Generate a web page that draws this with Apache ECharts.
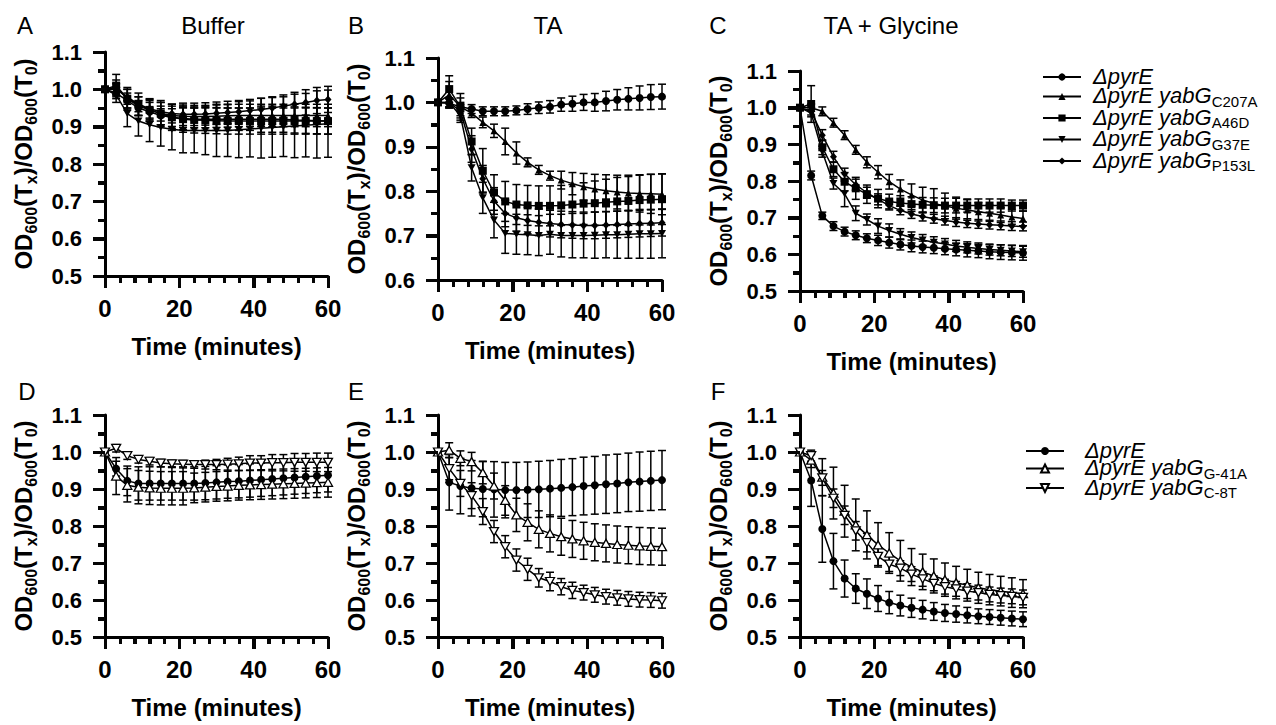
<!DOCTYPE html>
<html><head><meta charset="utf-8">
<script src="https://cdn.jsdelivr.net/npm/echarts@6/dist/echarts.min.js"></script>
<style>html,body{margin:0;padding:0;background:#fff}
#wrap{position:relative;width:1276px;height:725px;background:#fff}
#top,#bottom{position:absolute;left:0;top:0;width:1276px;height:725px}</style>
</head><body><div id="wrap"><div id="top"></div><div id="bottom"></div></div>
<script>
// ---------------- data ----------------
const minutes = [0,3,6,9,12,15,18,21,24,27,30,33,36,39,42,45,48,51,54,57,60];
const xTicks = [0,20,40,60];
const xMinorTicks = [4,8,12,16,24,28,32,36,44,48,52,56];
const yTicks = [0.5,0.6,0.7,0.8,0.9,1.0,1.1];
const yMinorTicks = [0.55,0.65,0.75,0.85,0.95,1.05];

// Panel A (Buffer)
const A_pyrE     = [1.000,0.990,0.970,0.950,0.940,0.930,0.925,0.922,0.920,0.920,0.920,0.920,0.920,0.920,0.920,0.920,0.920,0.918,0.917,0.916,0.915];
const A_pyrE_sd  = [0,0.015,0.020,0.020,0.025,0.025,0.030,0.030,0.030,0.030,0.030,0.030,0.030,0.030,0.035,0.035,0.035,0.035,0.035,0.035,0.035];
const A_C207A    = [1.000,1.005,0.975,0.955,0.945,0.935,0.930,0.928,0.927,0.927,0.928,0.929,0.930,0.930,0.930,0.930,0.930,0.930,0.930,0.930,0.930];
const A_C207A_sd = [0,0.020,0.025,0.025,0.025,0.030,0.030,0.030,0.030,0.030,0.030,0.030,0.030,0.030,0.030,0.030,0.030,0.030,0.030,0.030,0.030];
const A_A46D     = [1.000,1.010,0.975,0.960,0.945,0.935,0.925,0.920,0.918,0.917,0.916,0.915,0.915,0.915,0.915,0.915,0.915,0.915,0.915,0.915,0.915];
const A_A46D_sd  = [0,0.030,0.030,0.030,0.030,0.035,0.035,0.035,0.035,0.035,0.035,0.035,0.035,0.035,0.035,0.035,0.035,0.035,0.035,0.035,0.035];
const A_G37E     = [1.000,0.985,0.935,0.915,0.905,0.898,0.893,0.890,0.890,0.890,0.890,0.890,0.892,0.894,0.896,0.898,0.900,0.902,0.904,0.906,0.908];
const A_G37E_sd  = [0,0.020,0.035,0.040,0.045,0.050,0.055,0.060,0.060,0.065,0.070,0.070,0.075,0.075,0.080,0.080,0.080,0.085,0.085,0.090,0.090];
const A_P153L    = [1.000,1.000,0.980,0.960,0.948,0.940,0.935,0.933,0.933,0.934,0.936,0.938,0.940,0.943,0.946,0.950,0.955,0.960,0.965,0.970,0.973];
const A_P153L_sd = [0,0.015,0.020,0.020,0.025,0.025,0.025,0.030,0.030,0.030,0.030,0.030,0.030,0.030,0.030,0.030,0.030,0.032,0.034,0.035,0.035];

// Panel B (TA)
const B_pyrE     = [1.000,0.998,0.990,0.985,0.980,0.980,0.980,0.982,0.985,0.988,0.990,0.995,0.997,1.000,1.000,1.003,1.006,1.008,1.010,1.012,1.013];
const B_pyrE_sd  = [0,0.010,0.010,0.010,0.010,0.010,0.010,0.010,0.012,0.013,0.014,0.015,0.017,0.018,0.020,0.022,0.023,0.025,0.027,0.028,0.028];
const B_C207A    = [1.000,1.017,0.990,0.976,0.955,0.936,0.912,0.886,0.865,0.848,0.835,0.825,0.817,0.810,0.805,0.801,0.798,0.796,0.795,0.794,0.793];
const B_C207A_sd = [0,0.030,0.020,0.010,0.012,0.015,0.030,0.025,0.010,0.010,0.010,0.020,0.025,0.030,0.033,0.036,0.038,0.040,0.042,0.044,0.046];
const B_A46D     = [1.000,1.030,0.990,0.912,0.846,0.797,0.777,0.770,0.768,0.767,0.767,0.768,0.770,0.772,0.773,0.775,0.777,0.778,0.780,0.781,0.782];
const B_A46D_sd  = [0,0.030,0.030,0.030,0.050,0.040,0.045,0.045,0.045,0.045,0.045,0.045,0.045,0.047,0.050,0.052,0.054,0.055,0.056,0.057,0.057];
const B_G37E     = [1.000,1.000,0.970,0.853,0.785,0.735,0.705,0.703,0.702,0.700,0.703,0.700,0.700,0.700,0.701,0.702,0.702,0.703,0.704,0.704,0.705];
const B_G37E_sd  = [0,0.010,0.015,0.030,0.035,0.040,0.045,0.045,0.045,0.045,0.045,0.048,0.050,0.050,0.052,0.052,0.053,0.054,0.055,0.055,0.055];
const B_P153L    = [1.000,1.000,0.980,0.895,0.828,0.778,0.750,0.740,0.734,0.730,0.727,0.725,0.724,0.723,0.723,0.724,0.725,0.726,0.727,0.728,0.729];
const B_P153L_sd = [0,0.010,0.015,0.030,0.030,0.030,0.030,0.030,0.030,0.030,0.030,0.030,0.030,0.030,0.030,0.030,0.030,0.030,0.030,0.030,0.030];

// Panel C (TA + Glycine)
const C_pyrE     = [1.000,0.815,0.705,0.677,0.662,0.652,0.644,0.638,0.632,0.627,0.623,0.620,0.618,0.615,0.613,0.611,0.609,0.607,0.606,0.605,0.604];
const C_pyrE_sd  = [0,0.012,0.010,0.012,0.012,0.012,0.012,0.014,0.015,0.015,0.016,0.016,0.016,0.016,0.017,0.018,0.018,0.019,0.020,0.020,0.020];
const C_C207A    = [1.000,1.000,0.990,0.959,0.925,0.885,0.851,0.824,0.798,0.778,0.762,0.748,0.739,0.732,0.726,0.721,0.716,0.712,0.707,0.702,0.698];
const C_C207A_sd = [0,0.010,0.012,0.012,0.012,0.012,0.015,0.018,0.020,0.025,0.030,0.035,0.040,0.035,0.030,0.028,0.025,0.022,0.020,0.020,0.020];
const C_A46D     = [1.000,1.010,0.892,0.832,0.798,0.780,0.764,0.752,0.744,0.740,0.737,0.735,0.734,0.733,0.733,0.733,0.733,0.733,0.733,0.733,0.733];
const C_A46D_sd  = [0,0.050,0.020,0.020,0.025,0.030,0.025,0.025,0.020,0.020,0.020,0.020,0.020,0.020,0.020,0.018,0.018,0.018,0.018,0.015,0.015];
const C_G37E     = [1.000,0.985,0.880,0.793,0.765,0.712,0.695,0.677,0.665,0.655,0.646,0.639,0.633,0.628,0.623,0.619,0.616,0.613,0.611,0.609,0.607];
const C_G37E_sd  = [0,0.010,0.015,0.015,0.035,0.020,0.015,0.020,0.018,0.015,0.015,0.015,0.015,0.015,0.015,0.015,0.015,0.015,0.015,0.015,0.015];
const C_P153L    = [1.000,0.990,0.925,0.866,0.820,0.790,0.768,0.750,0.733,0.720,0.710,0.703,0.697,0.692,0.688,0.685,0.683,0.681,0.679,0.677,0.676];
const C_P153L_sd = [0,0.010,0.015,0.015,0.015,0.015,0.015,0.015,0.012,0.012,0.012,0.012,0.012,0.012,0.012,0.012,0.012,0.012,0.012,0.012,0.012];

// Panel D (Buffer, promoter mutants)
const D_pyrE     = [1.000,0.955,0.922,0.915,0.915,0.915,0.915,0.915,0.915,0.916,0.918,0.920,0.921,0.923,0.925,0.927,0.929,0.931,0.933,0.935,0.937];
const D_pyrE_sd  = [0,0.020,0.040,0.045,0.045,0.045,0.045,0.045,0.045,0.045,0.045,0.045,0.045,0.045,0.045,0.045,0.045,0.045,0.045,0.045,0.045];
const D_G41A     = [1.000,0.935,0.910,0.905,0.903,0.902,0.902,0.902,0.903,0.905,0.907,0.908,0.910,0.911,0.912,0.913,0.914,0.915,0.916,0.917,0.918];
const D_G41A_sd  = [0,0.050,0.045,0.045,0.045,0.045,0.045,0.045,0.040,0.040,0.040,0.040,0.040,0.040,0.040,0.040,0.040,0.040,0.040,0.040,0.040];
const D_C8T      = [1.000,1.010,0.990,0.980,0.975,0.970,0.968,0.967,0.966,0.966,0.966,0.967,0.968,0.970,0.970,0.971,0.971,0.972,0.972,0.972,0.972];
const D_C8T_sd   = [0,0.010,0.010,0.010,0.010,0.010,0.010,0.010,0.010,0.012,0.014,0.016,0.018,0.020,0.020,0.022,0.022,0.024,0.024,0.025,0.025];

// Panel E (TA, promoter mutants)
const E_pyrE     = [1.000,0.918,0.908,0.902,0.900,0.899,0.897,0.897,0.898,0.899,0.901,0.903,0.905,0.908,0.910,0.913,0.915,0.918,0.920,0.922,0.924];
const E_pyrE_sd  = [0,0.075,0.075,0.075,0.075,0.075,0.075,0.075,0.075,0.076,0.076,0.077,0.077,0.078,0.078,0.079,0.079,0.079,0.080,0.080,0.080];
const E_G41A     = [1.000,1.005,0.983,0.974,0.944,0.908,0.869,0.830,0.810,0.791,0.780,0.771,0.765,0.760,0.756,0.753,0.750,0.748,0.746,0.745,0.744];
const E_G41A_sd  = [0,0.020,0.020,0.025,0.030,0.035,0.040,0.045,0.050,0.050,0.050,0.050,0.050,0.050,0.050,0.050,0.050,0.050,0.050,0.050,0.050];
const E_C8T      = [1.000,0.955,0.915,0.882,0.839,0.785,0.744,0.708,0.683,0.660,0.650,0.636,0.626,0.620,0.614,0.609,0.606,0.603,0.601,0.600,0.598];
const E_C8T_sd   = [0,0.030,0.035,0.035,0.035,0.030,0.030,0.030,0.030,0.025,0.025,0.022,0.022,0.020,0.020,0.020,0.020,0.020,0.020,0.020,0.020];

// Panel F (TA + Glycine, promoter mutants)
const F_pyrE     = [1.000,0.923,0.792,0.705,0.658,0.631,0.617,0.604,0.593,0.585,0.579,0.574,0.569,0.565,0.562,0.559,0.556,0.554,0.552,0.550,0.548];
const F_pyrE_sd  = [0,0.070,0.090,0.075,0.050,0.040,0.040,0.035,0.030,0.028,0.026,0.025,0.024,0.023,0.022,0.021,0.020,0.020,0.020,0.020,0.020];
const F_G41A     = [1.000,0.978,0.932,0.889,0.840,0.803,0.776,0.749,0.727,0.706,0.689,0.676,0.665,0.655,0.647,0.640,0.633,0.628,0.624,0.620,0.617];
const F_G41A_sd  = [0,0.020,0.050,0.070,0.070,0.070,0.065,0.060,0.055,0.055,0.050,0.048,0.046,0.045,0.044,0.043,0.042,0.041,0.040,0.040,0.038];
const F_C8T      = [1.000,0.990,0.930,0.875,0.829,0.787,0.755,0.718,0.697,0.686,0.670,0.657,0.645,0.636,0.630,0.624,0.620,0.615,0.612,0.610,0.607];
const F_C8T_sd   = [0,0.015,0.020,0.025,0.025,0.025,0.025,0.025,0.020,0.020,0.020,0.020,0.020,0.020,0.020,0.020,0.020,0.020,0.020,0.020,0.020];

const panelLetters = ['A','B','C','D','E','F'];
const panelTitles = ['Buffer','TA','TA + Glycine'];
const yMinByPanel = [0.5,0.6,0.5,0.5,0.5,0.5];
const strainNames = {
  pyrE:'ΔpyrE', C207A:'ΔpyrE yabG C207A', A46D:'ΔpyrE yabG A46D', G37E:'ΔpyrE yabG G37E',
  P153L:'ΔpyrE yabG P153L', G41A:'ΔpyrE yabG G-41A', C8T:'ΔpyrE yabG C-8T'
};
const strainSubs = {C207A:'C207A', A46D:'A46D', G37E:'G37E', P153L:'P153L', G41A:'G-41A', C8T:'C-8T'};

// ---------------- layout / style ----------------
const FONT = '"Liberation Sans", Arial, Helvetica, sans-serif';
const INK = '#050505';
const DOWN_TRI = 'path://M0,0L10,0L5,9Z';
const markers = {
  pyrE:{symbol:'circle', size:8, fill:'#000'},
  C207A:{symbol:'triangle', size:7, fill:'#000'},
  A46D:{symbol:'rect', size:8, fill:'#000'},
  G37E:{symbol:DOWN_TRI, size:[8,7], fill:'#000'},
  P153L:{symbol:'diamond', size:[7,8], fill:'#000'},
  G41A:{symbol:'triangle', size:[9,8], fill:'#fff'},
  C8T:{symbol:DOWN_TRI, size:[9,8], fill:'#fff'}
};
const grids = [
  {left:105, top:52, width:223, height:224},
  {left:438, top:58, width:224, height:222},
  {left:800, top:71, width:223, height:220},
  {left:105, top:415, width:223, height:222},
  {left:438, top:415, width:224, height:222},
  {left:800, top:415, width:223, height:222}
];
const panels = [
  {keys:['pyrE','C207A','A46D','G37E','P153L'], means:[A_pyrE,A_C207A,A_A46D,A_G37E,A_P153L], sds:[A_pyrE_sd,A_C207A_sd,A_A46D_sd,A_G37E_sd,A_P153L_sd]},
  {keys:['pyrE','C207A','A46D','G37E','P153L'], means:[B_pyrE,B_C207A,B_A46D,B_G37E,B_P153L], sds:[B_pyrE_sd,B_C207A_sd,B_A46D_sd,B_G37E_sd,B_P153L_sd]},
  {keys:['pyrE','C207A','A46D','G37E','P153L'], means:[C_pyrE,C_C207A,C_A46D,C_G37E,C_P153L], sds:[C_pyrE_sd,C_C207A_sd,C_A46D_sd,C_G37E_sd,C_P153L_sd]},
  {keys:['pyrE','G41A','C8T'], means:[D_pyrE,D_G41A,D_C8T], sds:[D_pyrE_sd,D_G41A_sd,D_C8T_sd]},
  {keys:['pyrE','G41A','C8T'], means:[E_pyrE,E_G41A,E_C8T], sds:[E_pyrE_sd,E_G41A_sd,E_C8T_sd]},
  {keys:['pyrE','G41A','C8T'], means:[F_pyrE,F_G41A,F_C8T], sds:[F_pyrE_sd,F_G41A_sd,F_C8T_sd]}
];

const ls = () => ({color:'#000', width:3});
const tls = () => ({color:INK, width:3});
const yName = '{m|OD}{s|600}{m|(T}{s|x}{m|)/OD}{s|600}{m|(T}{s|0}{m|)}';
const yNameRich = () => ({
  m:{fontFamily:FONT, fontSize:24, fontWeight:'bold', color:'#000', lineHeight:28, verticalAlign:'top'},
  s:{fontFamily:FONT, fontSize:16, fontWeight:'bold', color:'#000', lineHeight:16, verticalAlign:'bottom'}
});
const MAJOR_LEN = 12, MINOR_LEN = 7;
const snap = v => Math.round(v) + 0.5;

function legendFmt(name) {
  const key = Object.keys(strainNames).find(k => strainNames[k] === name);
  if (key === 'pyrE') return '{i|ΔpyrE}';
  return '{i|ΔpyrE yabG}{s|' + strainSubs[key] + '}';
}
function legendRich(gap) {
  return {
    i:{fontFamily:FONT, fontSize:22, fontStyle:'italic', color:'#000', lineHeight:24, verticalAlign:'top', padding:[0,0,0,gap]},
    s:{fontFamily:FONT, fontSize:15, color:'#000', lineHeight:12, verticalAlign:'bottom'}
  };
}
function textEl(x, y, text) {
  return {type:'text', x:x, y:y, silent:true, style:{text:text, font:'24px ' + FONT, fill:'#000',
    align:'center', verticalAlign:'middle', textAlign:'center', textVerticalAlign:'middle'}};
}
const letterPos = [[25,25],[356,25],[718,25],[27,391],[356,391],[718,391]];
const titlePos = [[213,25],[548,25],[891,25]];

function buildOption(panelIdx, legend, bg) {
  const xAxes = [], yAxes = [], series = [], gridList = [];
  panelIdx.forEach((pi, i) => {
    const yMin = yMinByPanel[pi];
    gridList.push(grids[pi]);
    xAxes.push({
      type:'value', gridIndex:i, min:xTicks[0], max:xTicks[xTicks.length-1], interval:xTicks[1]-xTicks[0],
      axisLine:{show:true, onZero:false, lineStyle:ls()},
      axisTick:{show:true, length:MAJOR_LEN, lineStyle:tls()},
      minorTick:{show:true, splitNumber:5, length:MINOR_LEN, lineStyle:tls()},
      splitLine:{show:false}, minorSplitLine:{show:false},
      axisLabel:{fontFamily:FONT, fontSize:24, fontWeight:'bold', color:'#000', margin:20},
      name:'Time (minutes)', nameLocation:'middle', nameGap:58,
      nameTextStyle:{fontFamily:FONT, fontSize:24, fontWeight:'bold', color:'#000'}
    });
    yAxes.push({
      type:'value', gridIndex:i, min:yMin, max:yTicks[yTicks.length-1], interval:0.1,
      axisLine:{show:true, onZero:false, lineStyle:ls()},
      axisTick:{show:true, length:MAJOR_LEN, lineStyle:tls()},
      minorTick:{show:true, splitNumber:2, length:MINOR_LEN, lineStyle:tls()},
      splitLine:{show:false}, minorSplitLine:{show:false},
      axisLabel:{fontFamily:FONT, fontSize:22, fontWeight:'bold', color:'#000', margin:23,
        formatter:v => v.toFixed(1)},
      name:yName, nameLocation:'middle', nameGap:66,
      nameTextStyle:{rich:yNameRich()}
    });
    const p = panels[pi];
    p.keys.forEach((k, j) => {
      const mean = p.means[j], sd = p.sds[j];
      series.push({
        type:'custom', name:'err-' + pi + '-' + k, xAxisIndex:i, yAxisIndex:i, z:2, silent:true,
        encode:{x:0, y:[1,2]},
        data:minutes.map((t, n) => [t, mean[n] - sd[n], mean[n] + sd[n]]),
        renderItem:(params, api) => {
          const x = api.value(0), lo = api.value(1), hi = api.value(2);
          if (hi - lo < 1e-9) return {type:'group', children:[]};
          const a = api.coord([x, hi]), b = api.coord([x, lo]);
          const w = 4, st = {stroke:'#000', lineWidth:1.5, fill:null};
          return {type:'group', children:[
            {type:'line', shape:{x1:a[0], y1:a[1], x2:b[0], y2:b[1]}, style:st},
            {type:'line', shape:{x1:a[0]-w, y1:a[1], x2:a[0]+w, y2:a[1]}, style:st},
            {type:'line', shape:{x1:b[0]-w, y1:b[1], x2:b[0]+w, y2:b[1]}, style:st}
          ]};
        }
      });
      const mk = markers[k];
      series.push({
        type:'line', name:strainNames[k], xAxisIndex:i, yAxisIndex:i, z:3,
        data:minutes.map((t, n) => [t, mean[n]]),
        symbol:mk.symbol, symbolSize:mk.size, showSymbol:true,
        lineStyle:{color:'#000', width:1.5},
        itemStyle:{color:mk.fill, borderColor:'#000', borderWidth: mk.fill === '#fff' ? 1.3 : 0},
        emphasis:{disabled:true}
      });
    });
  });
  return {animation:false, backgroundColor:bg, grid:gridList, xAxis:xAxes, yAxis:yAxes,
    legend:[legend], series:series};
}

// tick marks placed through each grid's axis scales (fallback: grid box mapping)
function toPixel(chart, i, pi, x, y) {
  let p = null;
  try { p = chart.convertToPixel({xAxisIndex:i, yAxisIndex:i}, [x, y]); } catch (e) { p = null; }
  if (!p || !isFinite(p[0]) || !isFinite(p[1])) {
    try { p = chart.convertToPixel({gridIndex:i}, [x, y]); } catch (e) { p = null; }
  }
  if (!p || !isFinite(p[0]) || !isFinite(p[1])) {
    const g = grids[pi], yMin = yMinByPanel[pi], yMax = yTicks[yTicks.length-1];
    const xMin = xTicks[0], xMax = xTicks[xTicks.length-1];
    p = [g.left + (x - xMin) / (xMax - xMin) * g.width, g.top + (yMax - y) / (yMax - yMin) * g.height];
  }
  return p;
}
function tickElements(chart, panelIdx) {
  const els = [];
  const st = {stroke:INK, lineWidth:3, fill:null};
  panelIdx.forEach((pi, i) => {
    const yMin = yMinByPanel[pi];
    xTicks.map(v => [v, MAJOR_LEN]).concat(xMinorTicks.map(v => [v, MINOR_LEN])).forEach(([v, len]) => {
      const p = toPixel(chart, i, pi, v, yMin), x = snap(p[0]);
      els.push({type:'line', silent:true, z:50, shape:{x1:x, y1:p[1], x2:x, y2:p[1] + len}, style:st});
    });
    yTicks.filter(v => v >= yMin - 1e-9).map(v => [v, MAJOR_LEN])
      .concat(yMinorTicks.filter(v => v > yMin).map(v => [v, MINOR_LEN])).forEach(([v, len]) => {
      const p = toPixel(chart, i, pi, xTicks[0], v), y = snap(p[1]);
      els.push({type:'line', silent:true, z:50, shape:{x1:p[0] - len, y1:y, x2:p[0], y2:y}, style:st});
    });
  });
  return els;
}

const legendTop = {orient:'vertical', left:1042, top:65, padding:0, itemWidth:38, itemHeight:9, itemGap:-2.5, selectedMode:false,
  data:['pyrE','C207A','A46D','G37E','P153L'].map(k => strainNames[k]),
  formatter:legendFmt, textStyle:{rich:legendRich(7)}};
const legendBottom = {orient:'vertical', left:1025, top:439, padding:0, itemWidth:38, itemHeight:10, itemGap:-4.5, selectedMode:false,
  data:['pyrE','G41A','C8T'].map(k => strainNames[k]),
  formatter:legendFmt, textStyle:{rich:legendRich(16)}};

const topChart = echarts.init(document.getElementById('top'), null, {renderer:'svg'});
topChart.setOption(buildOption([0,1,2], legendTop, '#fff'));
const topTexts = letterPos.slice(0,3).map((p, i) => textEl(p[0], p[1], panelLetters[i]))
  .concat(titlePos.map((p, i) => textEl(p[0], p[1], panelTitles[i])));
topChart.setOption({graphic:{elements:topTexts.concat(tickElements(topChart, [0,1,2]))}});

const bottomChart = echarts.init(document.getElementById('bottom'), null, {renderer:'svg'});
bottomChart.setOption(buildOption([3,4,5], legendBottom, 'transparent'));
const bottomTexts = letterPos.slice(3).map((p, i) => textEl(p[0], p[1], panelLetters[i + 3]));
bottomChart.setOption({graphic:{elements:bottomTexts.concat(tickElements(bottomChart, [3,4,5]))}});
</script>
</body></html>
